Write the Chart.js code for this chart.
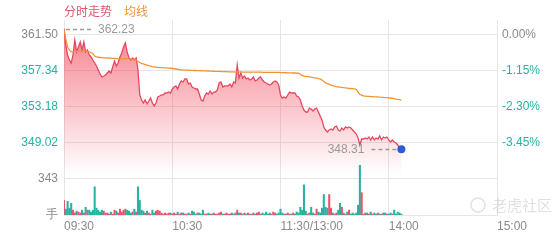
<!DOCTYPE html>
<html>
<head>
<meta charset="utf-8">
<script src="https://cdn.jsdelivr.net/npm/chart.js@4.4.0/dist/chart.umd.min.js"></script>
<style>
  html, body { margin: 0; padding: 0; background: #fff; }
  #wrap { position: relative; width: 560px; height: 240px; }
</style>
</head>
<body>
<div id="wrap"><canvas id="minuteChart" width="560" height="240"></canvas></div>
<script>
// previous close, used for the % axis
const prevClose = 361.50;

// left axis ticks (price) and their labels; the two lowest belong to the volume panel
const priceTicks = [361.50, 357.34, 353.18, 349.02, 344.86, 340.70];
const priceTickLabels = ['361.50', '357.34', '353.18', '349.02', '343', '手'];
const pctTickCount = 4;

// time axis, minutes from 09:30
const timeTicks = [0, 60, 120, 180, 240];
const timeLabels = ['09:30', '10:30', '11:30/13:00', '14:00', '15:00'];

// price per minute (09:30 -> ~14:07)
const prices = [
  362.23, 360.34, 359.19, 358.61, 358.26, 359.19, 360.92, 359.54, 360.11, 360.69,
  359.77, 360.69, 359.54, 359.77, 359.19, 358.96, 358.61, 358.26, 357.92, 357.46,
  356.99, 356.65, 356.76, 356.88, 357.11, 357.34, 357.11, 357.80, 358.49, 357.92,
  358.26, 358.96, 359.42, 360.11, 360.58, 359.54, 358.84, 358.61, 358.84, 358.61,
  358.84, 357.46, 354.57, 353.99, 353.64, 353.99, 353.53, 353.87, 354.22, 353.64,
  353.30, 353.64, 354.34, 354.45, 354.57, 354.57, 354.80, 354.80, 354.91, 354.80,
  355.26, 355.49, 355.61, 355.26, 355.84, 356.19, 356.07, 356.42, 356.42, 355.84,
  355.95, 355.49, 355.38, 355.26, 355.26, 354.68, 353.99, 353.87, 354.45, 354.80,
  354.68, 355.03, 354.68, 354.91, 354.91, 355.14, 355.95, 356.07, 355.49, 355.61,
  355.61, 355.61, 355.84, 355.49, 356.07, 355.95, 358.03, 356.53, 357.11, 356.53,
  356.76, 356.42, 356.53, 356.30, 356.42, 356.65, 356.19, 356.30, 356.53, 356.65,
  356.30, 356.07, 355.95, 355.84, 355.72, 355.84, 356.07, 356.19, 356.07, 355.72,
  354.57, 354.22, 354.34, 354.22, 354.57, 354.91, 354.80, 354.80, 354.80, 354.45,
  354.34, 353.99, 353.30, 352.83, 352.60, 352.60, 353.06, 352.95, 352.72, 352.95,
  353.06, 352.60, 352.14, 351.68, 350.87, 350.52, 350.29, 350.52, 350.64, 350.52,
  350.87, 350.98, 350.52, 350.41, 350.75, 350.52, 350.87, 350.75, 350.87, 350.75,
  350.52, 350.29, 350.06, 349.60, 348.79, 349.48, 349.48, 349.60, 349.48, 349.71,
  349.37, 349.71, 349.37, 349.60, 349.48, 349.83, 349.37, 349.71, 349.60, 349.71,
  349.37, 349.14, 349.37, 349.14, 349.02, 348.79, 348.44, 348.31
];

// average price line
const avgPrices = [
  362.10, 361.04, 360.11, 359.77, 359.54, 359.54, 359.60, 359.62, 359.62, 359.65,
  359.65, 359.66, 359.64, 359.62, 359.55, 359.48, 359.36, 359.07, 358.96, 358.93,
  358.90, 358.88, 358.86, 358.85, 358.84, 358.83, 358.82, 358.80, 358.79, 358.78,
  358.76, 358.75, 358.75, 358.76, 358.77, 358.76, 358.74, 358.73, 358.72, 358.71,
  358.61, 358.44, 358.32, 358.21, 358.15, 358.09, 358.03, 357.97, 357.91, 357.85,
  357.80, 357.78, 357.76, 357.74, 357.72, 357.71, 357.70, 357.69, 357.68, 357.66,
  357.63, 357.60, 357.57, 357.54, 357.51, 357.48, 357.46, 357.45, 357.44, 357.43,
  357.42, 357.41, 357.40, 357.40, 357.39, 357.38, 357.37, 357.36, 357.36, 357.35,
  357.34, 357.33, 357.32, 357.31, 357.30, 357.30, 357.29, 357.28, 357.27, 357.27,
  357.26, 357.25, 357.25, 357.24, 357.23, 357.22, 357.23, 357.23, 357.23, 357.22,
  357.22, 357.22, 357.21, 357.21, 357.21, 357.21, 357.20, 357.20, 357.20, 357.20,
  357.19, 357.19, 357.19, 357.18, 357.18, 357.18, 357.17, 357.17, 357.17, 357.17,
  357.16, 357.15, 357.15, 357.14, 357.13, 357.12, 357.12, 357.11, 357.11, 357.10,
  357.08, 356.97, 356.83, 356.76, 356.71, 356.69, 356.65, 356.63, 356.58, 356.55,
  356.51, 356.46, 356.42, 356.30, 356.13, 355.95, 355.87, 355.80, 355.72, 355.65,
  355.58, 355.53, 355.49, 355.47, 355.45, 355.41, 355.39, 355.37, 355.34, 355.32,
  355.30, 355.28, 355.20, 354.91, 354.62, 354.54, 354.46, 354.44, 354.41, 354.40,
  354.39, 354.38, 354.36, 354.35, 354.34, 354.31, 354.30, 354.29, 354.27, 354.26,
  354.24, 354.22, 354.19, 354.14, 354.09, 354.06, 354.02, 353.99
];

// volume per minute (手)
const volumes = [
  139, 56, 130, 65, 111, 46, 19, 37, 28, 19,
  46, 19, 74, 46, 46, 28, 46, 269, 65, 46,
  28, 46, 37, 19, 19, 9, 28, 9, 46, 37,
  19, 56, 28, 46, 56, 46, 37, 19, 28, 56,
  28, 269, 139, 46, 37, 19, 37, 19, 9, 46,
  19, 37, 46, 37, 19, 9, 19, 9, 19, 19,
  9, 19, 9, 28, 9, 19, 19, 9, 9, 19,
  9, 37, 28, 9, 19, 19, 9, 46, 9, 9,
  19, 9, 9, 19, 9, 9, 19, 28, 9, 9,
  19, 9, 9, 19, 9, 19, 46, 19, 19, 9,
  19, 9, 19, 9, 9, 19, 9, 19, 28, 9,
  19, 9, 28, 9, 19, 9, 28, 19, 9, 19,
  56, 19, 9, 9, 19, 9, 9, 19, 9, 28,
  19, 74, 46, 287, 37, 9, 19, 74, 19, 9,
  56, 28, 19, 65, 195, 74, 65, 195, 65, 19,
  9, 19, 46, 111, 74, 19, 9, 28, 46, 9,
  19, 9, 19, 93, 473, 213, 9, 19, 19, 9,
  28, 9, 19, 9, 19, 9, 9, 19, 19, 9,
  9, 19, 9, 46, 9, 28, 19, 9
];

const upColor = '#e8566b';
const downColor = '#27b2a2';
const labelGray = '#8a8a8a';
const gridColor = '#e6e6e6';

// axis ranges: top of plot a bit above the high, bottom on the volume base line
const priceMax = 363.233;
const priceMin = priceTicks[priceTicks.length - 1];
const volMax = 343 * (priceMax - priceMin) / (priceTicks[4] - priceMin);
const toPct = p => (p / prevClose - 1) * 100;

const pricePoints = prices.map((p, i) => ({ x: i, y: p }));
const avgPoints = avgPrices.map((p, i) => ({ x: i, y: p }));
const volPoints = volumes.map((v, i) => ({ x: i, y: v }));
const volColors = prices.map((p, i) => p >= (i === 0 ? prevClose : prices[i - 1]) ? upColor : downColor);

const lastIdx = prices.length - 1;

// text marks: legend, high / last price, watermark
const markPlugin = {
  id: 'markPlugin',
  afterDraw(chart) {
    const { ctx, scales: { x, y } } = chart;
    ctx.save();
    ctx.textBaseline = 'middle';
    ctx.textAlign = 'left';
    ctx.font = '12px "Noto Sans CJK SC", sans-serif';
    ctx.fillStyle = '#e0566d';
    ctx.fillText(chart.data.datasets[0].label, 64, 11);
    ctx.fillStyle = '#f0973a';
    ctx.fillText(chart.data.datasets[1].label, 124, 11);

    ctx.font = '12px "Liberation Sans", Arial, sans-serif';
    ctx.strokeStyle = '#9a9a9a';
    ctx.fillStyle = '#9a9a9a';
    ctx.lineWidth = 1.5;
    ctx.setLineDash([4, 3]);

    let hiIdx = 0;
    prices.forEach((p, i) => { if (p > prices[hiIdx]) hiIdx = i; });
    const hx = x.getPixelForValue(hiIdx);
    const hy = Math.round(y.getPixelForValue(prices[hiIdx])) + 0.5;
    ctx.beginPath();
    ctx.moveTo(hx + 2, hy);
    ctx.lineTo(hx + 29, hy);
    ctx.stroke();
    ctx.fillText(prices[hiIdx].toFixed(2), hx + 34, hy);

    const lx = x.getPixelForValue(lastIdx);
    const ly = Math.round(y.getPixelForValue(prices[lastIdx])) + 0.5;
    ctx.beginPath();
    ctx.moveTo(lx - 30, ly);
    ctx.lineTo(lx - 5, ly);
    ctx.stroke();
    ctx.textAlign = 'right';
    ctx.fillText(prices[lastIdx].toFixed(2), lx - 37, ly);

    // watermark
    ctx.setLineDash([]);
    ctx.globalAlpha = 0.55;
    ctx.strokeStyle = '#c8c8c8';
    ctx.lineWidth = 1.5;
    ctx.beginPath();
    ctx.arc(478, 205, 7, 0, Math.PI * 2);
    ctx.stroke();
    ctx.fillStyle = '#c8c8c8';
    ctx.textAlign = 'left';
    ctx.font = '15px "Noto Sans CJK SC", sans-serif';
    ctx.fillText('老虎社区', 492, 205);
    ctx.restore();
  }
};

const minuteChart = new Chart('minuteChart', {
  type: 'line',
  data: {
    datasets: [{
      label: '分时走势',
      data: pricePoints,
      borderColor: '#e5475f',
      borderWidth: 1.3,
      tension: 0,
      fill: 'start',
      backgroundColor: ctx => {
        const area = ctx.chart.chartArea;
        if (!area) return 'rgba(240,70,90,0.3)';
        const g = ctx.chart.ctx.createLinearGradient(0, 25, 0, 175);
        g.addColorStop(0, 'rgba(240,62,82,0.66)');
        g.addColorStop(1, 'rgba(240,62,82,0)');
        return g;
      },
      pointRadius: ctx => ctx.dataIndex === lastIdx ? 4 : 0,
      pointBackgroundColor: '#2d5bd6',
      pointBorderWidth: 0,
      yAxisID: 'y',
      order: 1
    }, {
      label: '均线',
      data: avgPoints,
      borderColor: '#ef9433',
      borderWidth: 1.3,
      tension: 0,
      fill: false,
      pointRadius: 0,
      yAxisID: 'y',
      order: 0
    }, {
      type: 'bar',
      label: '成交量',
      data: volPoints,
      backgroundColor: volColors,
      barThickness: 1.4,
      yAxisID: 'yv',
      order: 2
    }]
  },
  options: {
    responsive: false,
    animation: false,
    layout: { padding: { top: 20, left: 0, right: 0, bottom: 0 } },
    plugins: { legend: { display: false }, tooltip: { enabled: false } },
    scales: {
      x: {
        type: 'linear',
        min: 0,
        max: 240,
        offset: false,
        afterBuildTicks: s => { s.ticks = timeTicks.map(v => ({ value: v })); },
        afterFit: s => { s.height = 25; },
        grid: { color: gridColor, drawTicks: false, offset: false },
        border: { color: gridColor },
        ticks: {
          autoSkip: false,
          maxRotation: 0,
          align: 'start',
          padding: 4,
          color: labelGray,
          font: { size: 12, family: '"Liberation Sans", Arial, sans-serif' },
          callback: (v, i) => timeLabels[i]
        }
      },
      y: {
        position: 'left',
        min: priceMin,
        max: priceMax,
        afterBuildTicks: s => { s.ticks = priceTicks.map(v => ({ value: v })); },
        afterFit: s => { s.width = 64; },
        grid: { color: gridColor, drawTicks: false },
        border: { color: gridColor },
        ticks: {
          padding: 6,
          font: { size: 12, family: '"Liberation Sans", Arial, sans-serif' },
          color: ctx => (ctx.index >= 1 && ctx.index <= 3) ? downColor : labelGray,
          callback: (v, i) => priceTickLabels[i]
        }
      },
      yPct: {
        position: 'right',
        min: toPct(priceMin),
        max: toPct(priceMax),
        afterBuildTicks: s => { s.ticks = priceTicks.slice(0, pctTickCount).map(p => ({ value: toPct(p) })); },
        afterFit: s => { s.width = 63; },
        grid: { display: false, drawTicks: false },
        border: { color: gridColor },
        ticks: {
          padding: 5,
          font: { size: 12, family: '"Liberation Sans", Arial, sans-serif' },
          color: ctx => ctx.index === 0 ? labelGray : downColor,
          callback: v => v.toFixed(2) + '%'
        }
      },
      yv: {
        display: false,
        min: 0,
        max: volMax
      }
    }
  },
  plugins: [markPlugin]
});
</script>
</body>
</html>
